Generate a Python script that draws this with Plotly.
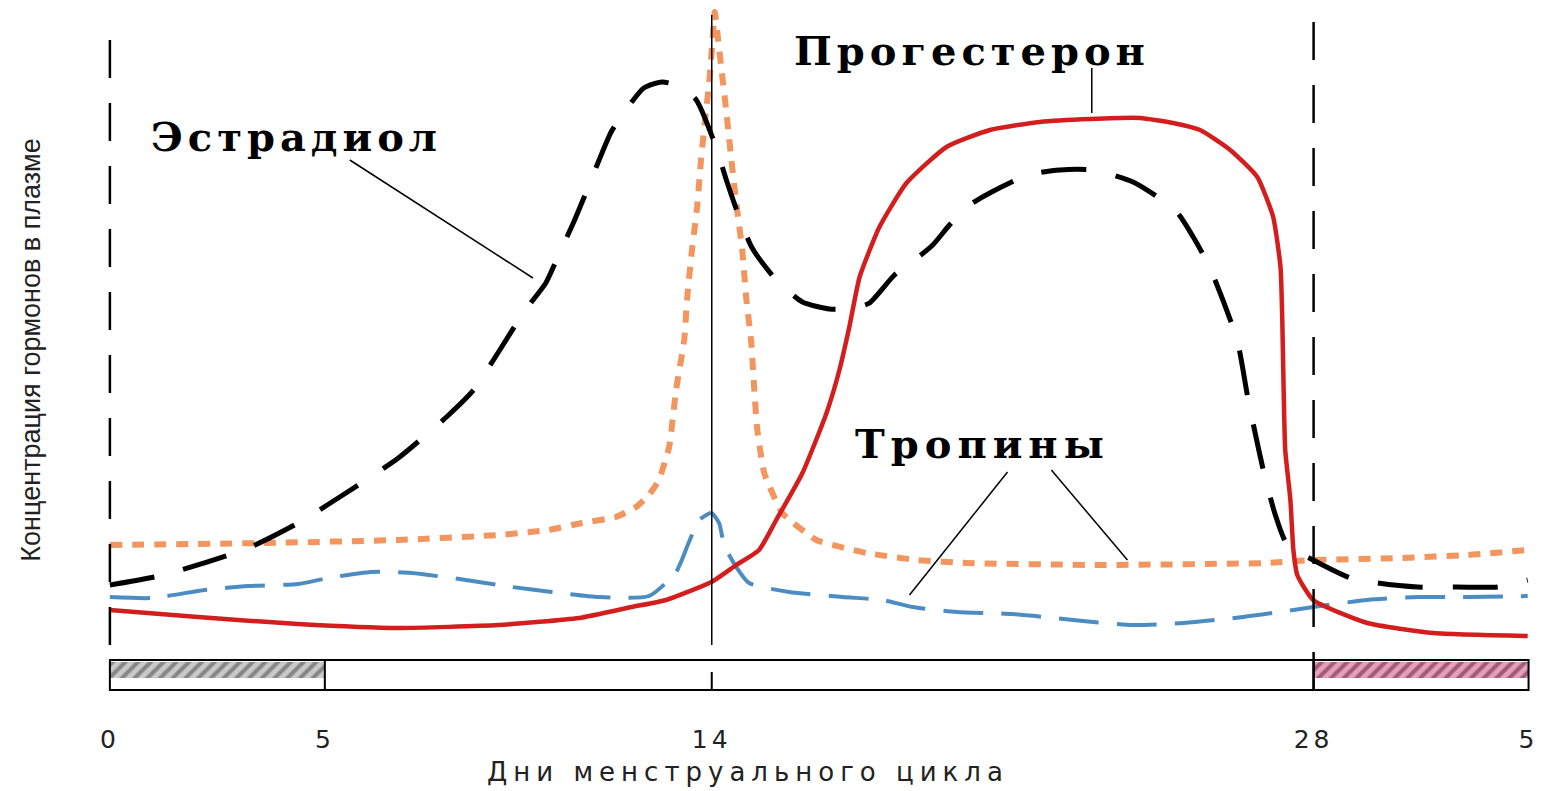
import plotly.graph_objects as go

# ---------------- data (day of cycle, relative plasma level) ----------------
est_days = [0, 1.24, 3.22, 4.38, 5.31, 6.71, 7.88, 8.46, 9.04, 9.63,
            10.14, 10.44, 10.79, 11.10, 11.38, 11.66, 12.00, 12.42, 12.84, 13.24,
            13.64, 14.10, 14.34, 14.62, 14.94, 15.50, 16.11, 16.74, 17.32, 17.67,
            18.25, 18.72, 19.14, 19.53, 20.00, 20.51, 21.35, 22.10, 22.87, 23.80,
            24.78, 25.20, 25.59, 26.22, 26.48, 26.83, 27.11, 27.39, 27.99, 28.86,
            29.49, 30.42, 31.35, 32.28, 32.98]
est_level = [105, 115, 142, 167, 192, 232, 275, 300, 338, 378,
             407, 435, 468, 500, 530, 558, 580, 602, 608, 604,
             590, 543, 510, 475, 442, 410, 388, 381, 382, 387,
             415, 430, 445, 465, 485, 498, 515, 520, 520, 508,
             480, 453, 422, 350, 290, 220, 175, 145, 130, 112,
             107, 103, 103, 103, 110]

prog_days = [0, 2.05, 4.38, 6.71, 9.04, 10.91, 12.14, 12.94, 13.99, 14.57,
             15.10, 15.50, 16.11, 16.67, 16.97, 17.20, 17.44, 17.90, 18.53, 19.46,
             20.47, 21.63, 22.80, 23.96, 24.73, 25.36, 26.06, 26.69, 27.06, 27.23,
             27.27, 27.30, 27.34, 27.46, 27.53, 27.62, 27.99, 29.25, 30.79, 32.98]
prog_level = [80, 73, 66, 62, 65, 72, 83, 90, 108, 125,
              140, 170, 217, 277, 320, 363, 413, 463, 507, 543,
              560, 568, 571, 572, 567, 560, 540, 513, 473, 423,
              373, 307, 240, 190, 140, 115, 90, 67, 57, 54]

lh_days = [0, 3.61, 6.71, 9.04, 10.21, 10.98, 11.77, 12.24, 12.54, 12.77,
           13.01, 13.17, 13.36, 13.43, 13.54, 13.66, 13.75, 13.87, 13.94, 14.01,
           14.07, 14.15, 14.22, 14.34, 14.45, 14.57, 14.71, 14.80, 14.92, 14.99,
           15.06, 15.22, 15.64, 16.43, 17.60, 18.76, 19.93, 23.03, 26.92, 27.99,
           30.02, 31.59, 32.98]
lh_level = [145, 147, 150, 155, 160, 167, 173, 183, 195, 210,
            243, 300, 350, 393, 440, 483, 530, 580, 607, 645,
            678, 650, 623, 578, 533, 487, 440, 393, 347, 300,
            260, 217, 177, 150, 137, 130, 127, 125, 127, 130,
            132, 135, 140]

fsh_days = [0, 0.96, 2.21, 3.22, 4.38, 5.08, 6.08, 7.02, 8.28, 9.35,
            10.28, 11.38, 12.54, 13.17, 13.47, 13.71, 13.99, 14.17, 14.29, 14.57,
            14.87, 15.80, 17.04, 17.97, 18.67, 19.70, 21.00, 22.63, 23.80, 24.97,
            26.36, 27.53, 27.99, 29.25, 30.42, 31.59, 32.98]
fsh_level = [93, 92, 100, 104, 106, 112, 118, 117, 110, 103,
             98, 93, 94, 118, 148, 170, 177, 167, 145, 123,
             107, 98, 93, 90, 83, 78, 76, 69, 65, 67,
             73, 80, 83, 90, 93, 93, 94]

tick_days = [0, 5, 14, 28, 33]
tick_text = ["0", "5", "14", "28", "5"]
cycle_markers = [0, 14, 28]          # cycle start, ovulation, next cycle
menses_start = [0, 28]
menses_length = [5, 5]
cycle_end = 33
phase_bar_top = 30

x_title = "Дни менструального цикла"
y_title = "Концентрация гормонов в плазме"
label_names = ["Эстрадиол", "Прогестерон", "Тропины"]

# ---------------- figure ----------------
def spaced(txt, px):
    return '<span style="letter-spacing:%dpx">%s</span>' % (px, txt)

fig = go.Figure()

# menstruation hatching in phase bar
fig.add_trace(go.Bar(
    orientation="h", y=[20], x=[menses_length[0]], base=[menses_start[0]], width=[16],
    marker=dict(color="#c9c9c9", line=dict(width=0),
                pattern=dict(shape="/", fgcolor="#444444", bgcolor="#c9c9c9", size=9, solidity=0.45)),
    showlegend=False, hoverinfo="skip"))
fig.add_trace(go.Bar(
    orientation="h", y=[20], x=[menses_length[1]], base=[menses_start[1]], width=[16],
    marker=dict(color="#e3a0b8", line=dict(width=0),
                pattern=dict(shape="/", fgcolor="#621632", bgcolor="#e3a0b8", size=9, solidity=0.45)),
    showlegend=False, hoverinfo="skip"))

fig.add_trace(go.Scatter(x=fsh_days, y=fsh_level, mode="lines", name="ФСГ",
                         line=dict(color="#4b8dc3", width=4, dash="40px,18px", shape="spline", smoothing=0.6)))
fig.add_trace(go.Scatter(x=lh_days, y=lh_level, mode="lines", name="ЛГ",
                         line=dict(color="#f2955e", width=6, dash="12px,10px", shape="spline", smoothing=0.4)))
fig.add_trace(go.Scatter(x=prog_days, y=prog_level, mode="lines", name="Прогестерон",
                         line=dict(color="#d41e1e", width=4.5, shape="spline", smoothing=0.5)))
fig.add_trace(go.Scatter(x=est_days, y=est_level, mode="lines", name="Эстрадиол",
                         line=dict(color="black", width=5, dash="45px,30px", shape="spline", smoothing=0.6)))

shapes = []
# vertical reference lines
shapes.append(dict(type="line", x0=cycle_markers[0], x1=cycle_markers[0], y0=45, y1=670,
                   line=dict(color="black", width=2.5, dash="38px,25px")))
shapes.append(dict(type="line", x0=cycle_markers[1], x1=cycle_markers[1], y0=45, y1=675,
                   line=dict(color="black", width=1.5)))
shapes.append(dict(type="line", x0=cycle_markers[1], x1=cycle_markers[1], y0=0, y1=18,
                   line=dict(color="black", width=2)))
shapes.append(dict(type="line", x0=cycle_markers[2], x1=cycle_markers[2], y0=0, y1=670,
                   line=dict(color="black", width=2.5, dash="38px,25px")))
# phase bar
shapes.append(dict(type="rect", x0=0, x1=cycle_end, y0=0, y1=phase_bar_top,
                   line=dict(color="black", width=2), fillcolor="rgba(0,0,0,0)"))
shapes.append(dict(type="line", x0=menses_start[0] + menses_length[0], x1=menses_start[0] + menses_length[0],
                   y0=0, y1=phase_bar_top, line=dict(color="black", width=2)))
shapes.append(dict(type="line", x0=menses_start[1], x1=menses_start[1],
                   y0=0, y1=phase_bar_top, line=dict(color="black", width=2)))
# leader lines
shapes.append(dict(type="line", x0=5.58, y0=530, x1=9.84, y1=412, line=dict(color="black", width=1.5)))
shapes.append(dict(type="line", x0=22.84, y0=622, x1=22.84, y1=577, line=dict(color="black", width=1.5)))
shapes.append(dict(type="line", x0=20.88, y0=218, x1=18.6, y1=95, line=dict(color="black", width=1.5)))
shapes.append(dict(type="line", x0=21.9, y0=220, x1=23.67, y1=130, line=dict(color="black", width=1.5)))

label_font = dict(family="DejaVu Serif", size=40, color="black", weight="bold")
axis_font = dict(family="DejaVu Sans", size=26, color="#222")
annotations = [
    dict(x=4.33, y=554, text=spaced(label_names[0], 5), showarrow=False, font=label_font),
    dict(x=20.05, y=640, text=spaced(label_names[1], 5), showarrow=False, font=label_font),
    dict(x=20.3, y=247, text=spaced(label_names[2], 6), showarrow=False, font=label_font),
    dict(x=14.84, xref="x", y=-0.103, yref="paper", yanchor="middle",
         text=spaced(x_title, 6), showarrow=False, font=axis_font),
]

fig.update_layout(
    width=1550, height=791,
    margin=dict(l=100, r=15, t=0, b=91),
    paper_bgcolor="white", plot_bgcolor="white",
    barmode="overlay", showlegend=False,
    shapes=shapes, annotations=annotations,
    xaxis=dict(range=[-0.23, 33.15], showgrid=False, zeroline=False, showline=False,
               automargin=False,
               tickmode="array", tickvals=tick_days, ticktext=[spaced(t, 4) for t in tick_text],
               ticks="outside", ticklen=17, tickcolor="rgba(0,0,0,0)",
               tickfont=dict(family="DejaVu Sans", size=25, color="#222")),
    yaxis=dict(range=[-10, 690], showgrid=False, zeroline=False, showline=False,
               automargin=False, showticklabels=False, ticks="",
               title=dict(text=y_title, standoff=50,
                          font=dict(family="Liberation Sans Narrow, Liberation Sans", size=27, color="#222"))),
)

fig.write_html("out.html", config={"displayModeBar": False},
               post_script="document.body.style.margin='0';document.body.style.padding='0';")
